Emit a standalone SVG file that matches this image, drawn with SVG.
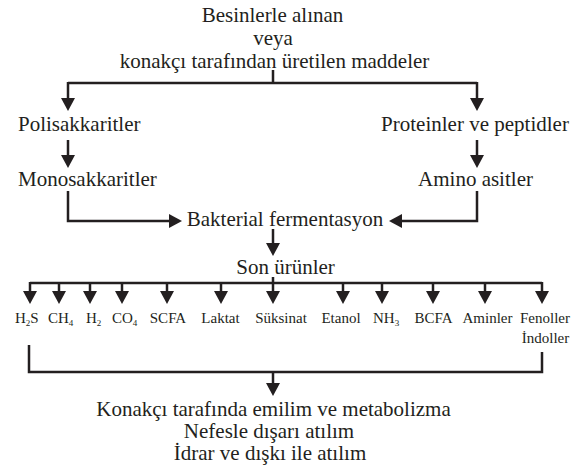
<svg xmlns="http://www.w3.org/2000/svg" width="582" height="471" viewBox="0 0 582 471">
<style>
.ln{fill:none;stroke:#231f20;stroke-width:2.5}
.ar{fill:none;stroke:#231f20;stroke-width:2.5;marker-end:url(#ah)}
.c{text-anchor:middle}
</style>
<defs>
<marker id="ah" markerUnits="userSpaceOnUse" markerWidth="13" markerHeight="14" refX="1" refY="7" orient="auto">
<path d="M0,0 L13,7 L0,14 z" fill="#231f20"/>
</marker>
</defs>
<rect width="582" height="471" fill="#ffffff"/>
<g id="connectors">
<path class="ln" d="M273,70 V83 M68,83 H477"/>
<path class="ar" d="M68,82 V99"/>
<path class="ar" d="M477,82 V99"/>
<path class="ar" d="M68,140 V156"/>
<path class="ar" d="M477,140 V156"/>
<path class="ar" d="M68,191 V221 H170"/>
<path class="ar" d="M477,191 V221 H401"/>
<path class="ar" d="M273,229 V244"/>
<path class="ln" d="M273,277 V283 M30,283 H542"/>
<path class="ar" d="M30,282 V292"/>
<path class="ar" d="M59,282 V292"/>
<path class="ar" d="M90,282 V292"/>
<path class="ar" d="M122,282 V292"/>
<path class="ar" d="M167,282 V292"/>
<path class="ar" d="M221,282 V292"/>
<path class="ar" d="M273,282 V292"/>
<path class="ar" d="M343,282 V292"/>
<path class="ar" d="M382,282 V292"/>
<path class="ar" d="M433,282 V292"/>
<path class="ar" d="M485,282 V292"/>
<path class="ar" d="M542,282 V292"/>
<path class="ln" d="M29,345 V372 H542 V352"/>
<path class="ar" d="M273,372 V384"/>
</g>
<g font-family="Liberation Serif, Times New Roman, serif" fill="#231f20" font-size="21">
<g id="n-source">
<text class="c" x="272.5" y="22">Besinlerle alınan</text>
<text class="c" x="273" y="45">veya</text>
<text class="c" x="274.5" y="68">konakçı tarafından üretilen maddeler</text>
</g>
<g id="n-poli"><text x="18" y="131">Polisakkaritler</text></g>
<g id="n-mono"><text x="18" y="186">Monosakkaritler</text></g>
<g id="n-protein"><text class="c" x="475" y="131">Proteinler ve peptidler</text></g>
<g id="n-amino"><text class="c" x="475.5" y="186">Amino asitler</text></g>
<g id="n-ferm"><text class="c" x="285" y="226">Bakterial fermentasyon</text></g>
<g id="n-son"><text class="c" x="285.5" y="274">Son ürünler</text></g>
<g font-size="15">
<g id="n-h2s"><text x="15" y="323">H<tspan font-size="9" dy="3">2</tspan><tspan dy="-3">S</tspan></text></g>
<g id="n-ch4"><text x="48" y="323">CH<tspan font-size="9" dy="3">4</tspan></text></g>
<g id="n-h2"><text x="86" y="323">H<tspan font-size="9" dy="3">2</tspan></text></g>
<g id="n-co4"><text x="112" y="323">CO<tspan font-size="9" dy="3">4</tspan></text></g>
<g id="n-scfa"><text class="c" x="168" y="323">SCFA</text></g>
<g id="n-laktat"><text class="c" x="220.5" y="323">Laktat</text></g>
<g id="n-suksinat"><text class="c" x="281" y="323">Süksinat</text></g>
<g id="n-etanol"><text class="c" x="341" y="323">Etanol</text></g>
<g id="n-nh3"><text x="373" y="323">NH<tspan font-size="9" dy="3">3</tspan></text></g>
<g id="n-bcfa"><text class="c" x="433.5" y="323">BCFA</text></g>
<g id="n-aminler"><text class="c" x="487.5" y="323">Aminler</text></g>
<g id="n-fenoller">
<text class="c" x="545" y="323">Fenoller</text>
<text class="c" x="545.5" y="343">İndoller</text>
</g>
</g>
<g id="n-outcome">
<text class="c" x="273.5" y="416">Konakçı tarafında emilim ve metabolizma</text>
<text class="c" x="269" y="438">Nefesle dışarı atılım</text>
<text class="c" x="270" y="460">İdrar ve dışkı ile atılım</text>
</g>
</g>
</svg>
